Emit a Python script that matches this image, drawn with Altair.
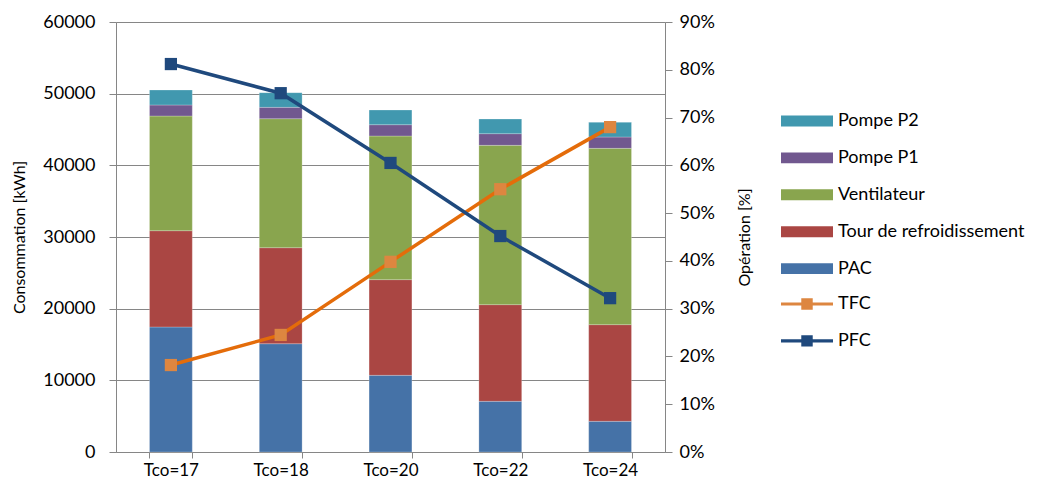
import altair as alt
import pandas as pd

categories = ["Tco=17", "Tco=18", "Tco=20", "Tco=22", "Tco=24"]
components = ["Pompe P2", "Pompe P1", "Ventilateur", "Tour de refroidissement", "PAC"]
comp_colors = ["#4198AF", "#71588F", "#89A54E", "#AA4643", "#4572A7"]

pac = [17440, 15110, 10700, 7070, 4280]
tour = [13440, 13400, 13350, 13490, 13490]
ventilateur = [16000, 18000, 20040, 22230, 24600]
pompe_p1 = [1540, 1580, 1580, 1630, 1580]
pompe_p2 = [2090, 2050, 2050, 2040, 2050]

tfc = [0.182, 0.245, 0.398, 0.550, 0.680]
pfc = [0.812, 0.751, 0.605, 0.452, 0.322]
series = ["TFC", "PFC"]
line_colors = ["#E46C0A", "#1F497D"]
marker_colors = ["#DD8640", "#1F497D"]

FONT = "Lato"
GRAY = "#868686"

stack_vals = {"PAC": pac, "Tour de refroidissement": tour, "Ventilateur": ventilateur,
              "Pompe P1": pompe_p1, "Pompe P2": pompe_p2}
stack_order = ["PAC", "Tour de refroidissement", "Ventilateur", "Pompe P1", "Pompe P2"]
rows = []
for i, c in enumerate(categories):
    for k, comp in enumerate(stack_order):
        rows.append({"cat": c, "comp": comp, "val": stack_vals[comp][i], "ord": k})
bars_df = pd.DataFrame(rows)

lrows = []
for i, c in enumerate(categories):
    lrows.append({"cat": c, "serie": "TFC", "name": "TFC", "pct": tfc[i]})
    lrows.append({"cat": c, "serie": "PFC", "name": "PFC", "pct": pfc[i]})
lines_df = pd.DataFrame(lrows)

xenc = alt.X("cat:N", sort=categories, title=None,
             scale=alt.Scale(paddingInner=0.61, paddingOuter=0.305),
             axis=alt.Axis(labelAngle=0, tickBand="extent", tickSize=6, labelPadding=4,
                           domainColor=GRAY, tickColor=GRAY, labelFontSize=17,
                           labelFont=FONT, labelColor="#000000"))

bar_sym = "M-1,-0.21H1V0.21H-1Z"
line_sym = "M-1,-0.06H1V0.06H-1Z M-0.22,-0.22H0.22V0.22H-0.22Z"

legend_common = dict(title=None, orient="none", legendX=665,
                     symbolSize=2704, symbolStrokeWidth=0, rowPadding=1.9,
                     labelFontSize=18, labelFont=FONT, labelColor="#000000",
                     labelOffset=5, labelLimit=400)

bars = alt.Chart(bars_df).mark_bar(stroke="#ffffff", strokeWidth=0.4, strokeOpacity=0.6).encode(
    x=xenc,
    y=alt.Y("sum(val):Q", title="Consommation [kWh]",
            scale=alt.Scale(domain=[0, 60000], nice=False),
            axis=alt.Axis(values=[0, 10000, 20000, 30000, 40000, 50000, 60000], format="d",
                          grid=True, gridColor=GRAY, gridWidth=1, domainColor=GRAY,
                          tickColor=GRAY, tickSize=7, labelPadding=14, titlePadding=15,
                          labelFontSize=18, labelFont=FONT, labelColor="#000000",
                          titleFontSize=16, titleFont=FONT, titleFontWeight="normal",
                          titleColor="#000000")),
    color=alt.Color("comp:N", scale=alt.Scale(domain=components, range=comp_colors),
                    legend=alt.Legend(legendY=73, symbolType=bar_sym, **legend_common)),
    order=alt.Order("ord:Q", sort="ascending"),
)

yline = alt.Y("pct:Q", title="Opération [%]",
              scale=alt.Scale(domain=[0, 0.9], nice=False),
              axis=alt.Axis(orient="right", values=[i / 10 for i in range(10)], format=".0%",
                            grid=False, domainColor=GRAY, tickColor=GRAY, tickSize=7,
                            labelPadding=7, titlePadding=38, titleAngle=270,
                            labelFontSize=18, labelFont=FONT, labelColor="#000000",
                            titleFontSize=16, titleFont=FONT, titleFontWeight="normal",
                            titleColor="#000000"))

lines = alt.Chart(lines_df).mark_line(strokeWidth=3.5).encode(
    x=alt.X("cat:N", sort=categories),
    y=yline,
    stroke=alt.Stroke("serie:N", scale=alt.Scale(domain=series, range=line_colors), legend=None),
    detail="serie:N",
)

points = alt.Chart(lines_df).mark_square(size=150, opacity=1, filled=True).encode(
    x=alt.X("cat:N", sort=categories),
    y=alt.Y("pct:Q"),
    fill=alt.Fill("name:N", scale=alt.Scale(domain=series, range=marker_colors),
                  legend=alt.Legend(legendY=256, symbolType=line_sym, **legend_common)),
)

right = alt.layer(lines, points).resolve_legend(fill="independent", stroke="independent")

chart = alt.layer(bars, right).resolve_scale(
    y="independent", color="independent", fill="independent", stroke="independent"
).resolve_legend(
    color="independent", fill="independent", stroke="independent"
).properties(
    width=549, height=430,
    autosize=alt.AutoSizeParams(type="none"),
    padding={"left": 108, "top": 14, "right": 376, "bottom": 29},
).configure_view(stroke=None).configure(background="#ffffff")

chart.save("out.html", embed_options={"renderer": "svg", "actions": False})
